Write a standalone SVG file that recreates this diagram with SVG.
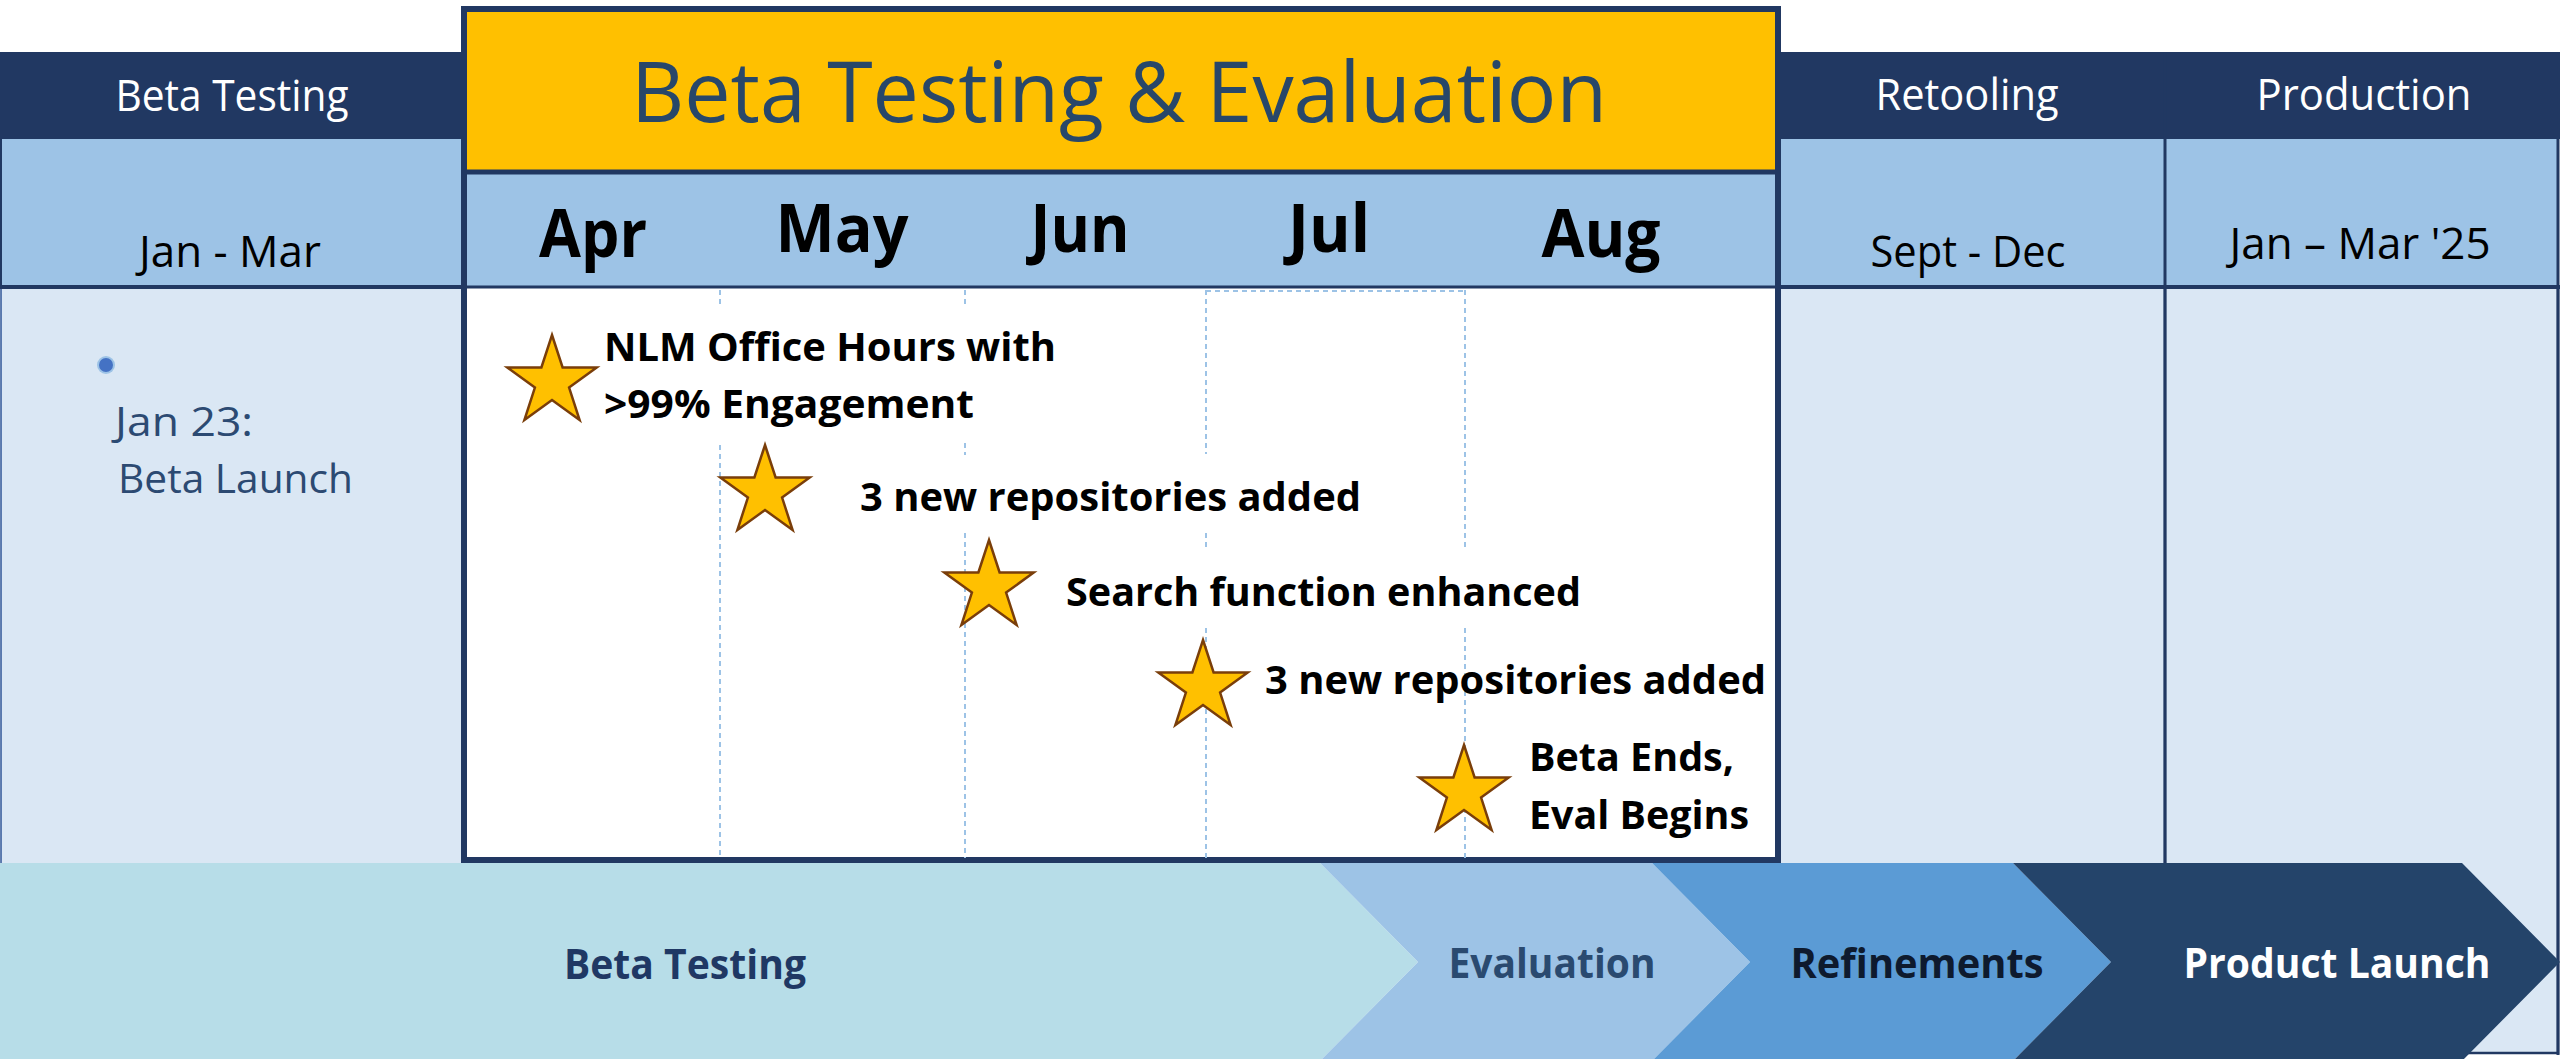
<svg xmlns="http://www.w3.org/2000/svg" width="2560" height="1059" viewBox="0 0 2560 1059">
<style>
text{font-family:"Open Sans","Liberation Sans",sans-serif}
.hdr{fill:#FFFFFF;font-size:43px}
.sub{fill:#000000;font-size:43px}
.mon{fill:#000000;font-size:66px;font-weight:bold}
.lbl{fill:#000000;font-size:39px;font-weight:bold}
.chv{font-size:42px;font-weight:bold}
.navytxt{fill:#2C4A72;font-size:41px}
.grid{stroke:#9DC3E6;stroke-width:2;stroke-dasharray:5 4;fill:none}
.star{fill:#FFC000;stroke:#7A3E0A;stroke-width:2.5;stroke-linejoin:miter}
</style>
<defs>
<polygon id="star" points="0,-47 10.6,-14.6 44.7,-14.5 17.1,5.6 27.6,38 0,18 -27.6,38 -17.1,5.6 -44.7,-14.5 -10.6,-14.6"/>
</defs>
<rect x="0" y="0" width="2560" height="1059" fill="#FFFFFF"/>

<g id="col-beta">
<rect x="0" y="52" width="466" height="85" fill="#213862"/>
<rect x="1" y="137" width="465" height="150" fill="#9DC3E6" stroke="#213862" stroke-width="2"/>
<rect x="1" y="287" width="465" height="580" fill="#DAE7F4" stroke="#2F5597" stroke-width="1.5"/>
<line x1="0" y1="137" x2="466" y2="137" stroke="#213862" stroke-width="4"/>
<line x1="0" y1="287" x2="466" y2="287" stroke="#213862" stroke-width="4"/>
<text class="hdr" x="232" y="111" text-anchor="middle" textLength="233" lengthAdjust="spacingAndGlyphs">Beta Testing</text>
<text class="sub" x="230" y="267" text-anchor="middle" textLength="182" lengthAdjust="spacingAndGlyphs">Jan - Mar</text>
<circle cx="106" cy="365" r="9" fill="#9DC3E6"/>
<circle cx="106" cy="365" r="7" fill="#4472C4"/>
<text class="navytxt" x="115" y="436" textLength="138" lengthAdjust="spacingAndGlyphs">Jan 23:</text>
<text class="navytxt" x="118" y="493" textLength="235" lengthAdjust="spacingAndGlyphs">Beta Launch</text>
</g>

<g id="col-retooling">
<rect x="1778" y="52" width="387" height="85" fill="#213862"/>
<rect x="1779" y="137" width="386" height="150" fill="#9DC3E6"/>
<rect x="1779" y="287" width="386" height="768" fill="#DAE7F4"/>
<line x1="1778" y1="137" x2="2165" y2="137" stroke="#213862" stroke-width="4"/>
<line x1="1778" y1="287" x2="2165" y2="287" stroke="#213862" stroke-width="4"/>
<text class="hdr" x="1967" y="110" text-anchor="middle" textLength="183" lengthAdjust="spacingAndGlyphs">Retooling</text>
<text class="sub" x="1968" y="267" text-anchor="middle" textLength="195" lengthAdjust="spacingAndGlyphs">Sept - Dec</text>
</g>

<g id="col-production">
<rect x="2165" y="52" width="395" height="85" fill="#213862"/>
<rect x="2165" y="137" width="393" height="150" fill="#9DC3E6"/>
<rect x="2165" y="287" width="393" height="766" fill="#DAE7F4" stroke="#213862" stroke-width="2.5"/>
<line x1="2165" y1="52" x2="2165" y2="1055" stroke="#213862" stroke-width="3"/>
<line x1="2165" y1="137" x2="2560" y2="137" stroke="#213862" stroke-width="4"/>
<line x1="2165" y1="287" x2="2560" y2="287" stroke="#213862" stroke-width="4"/>
<line x1="2558" y1="137" x2="2558" y2="1055" stroke="#213862" stroke-width="3"/>
<text class="hdr" x="2364" y="110" text-anchor="middle" textLength="215" lengthAdjust="spacingAndGlyphs">Production</text>
<text class="sub" x="2360" y="259" text-anchor="middle" textLength="261" lengthAdjust="spacingAndGlyphs">Jan – Mar '25</text>
</g>

<g id="main-box">
<rect x="464" y="9" width="1314" height="163" fill="#FFC000"/>
<rect x="464" y="172" width="1314" height="115" fill="#9DC3E6"/>
<rect x="464" y="287" width="1314" height="573" fill="#FFFFFF"/>
<line x1="464" y1="172" x2="1778" y2="172" stroke="#213862" stroke-width="5"/>
<line x1="464" y1="287" x2="1778" y2="287" stroke="#213862" stroke-width="3"/>
<rect x="464" y="9" width="1314" height="851" fill="none" stroke="#213862" stroke-width="6"/>
<text x="1119" y="122" text-anchor="middle" font-size="84" fill="#284769" textLength="976" lengthAdjust="spacingAndGlyphs">Beta Testing &amp; Evaluation</text>
<text class="mon" x="593" y="257" text-anchor="middle" textLength="108" lengthAdjust="spacingAndGlyphs">Apr</text>
<text class="mon" x="842" y="252" text-anchor="middle" textLength="133" lengthAdjust="spacingAndGlyphs">May</text>
<text class="mon" x="1080" y="252" text-anchor="middle" textLength="99" lengthAdjust="spacingAndGlyphs">Jun</text>
<text class="mon" x="1329" y="252" text-anchor="middle" textLength="82" lengthAdjust="spacingAndGlyphs">Jul</text>
<text class="mon" x="1601" y="257" text-anchor="middle" textLength="119" lengthAdjust="spacingAndGlyphs">Aug</text>
</g>

<g id="connectors">
<line class="grid" x1="1206" y1="291" x2="1465" y2="291" stroke-dasharray="2 2"/>
<path class="grid" d="M720,290V307 M720,445V858"/>
<path class="grid" d="M965,290V307 M965,443V455 M965,533V858"/>
<path class="grid" d="M1206,290V454 M1206,533V550 M1206,628V858"/>
<path class="grid" d="M1465,290V550 M1465,628V858"/>
</g>

<g id="milestone-1">
<use href="#star" class="star" x="552" y="382"/>
<text class="lbl" x="604" y="361" textLength="452" lengthAdjust="spacingAndGlyphs">NLM Office Hours with</text>
<text class="lbl" x="604" y="418" textLength="370" lengthAdjust="spacingAndGlyphs">&gt;99% Engagement</text>
</g>
<g id="milestone-2">
<use href="#star" class="star" x="765" y="492"/>
<text class="lbl" x="860" y="511" textLength="501" lengthAdjust="spacingAndGlyphs">3 new repositories added</text>
</g>
<g id="milestone-3">
<use href="#star" class="star" x="989" y="587"/>
<text class="lbl" x="1066" y="606" textLength="515" lengthAdjust="spacingAndGlyphs">Search function enhanced</text>
</g>
<g id="milestone-4">
<use href="#star" class="star" x="1203" y="687"/>
<text class="lbl" x="1265" y="694" textLength="501" lengthAdjust="spacingAndGlyphs">3 new repositories added</text>
</g>
<g id="milestone-5">
<use href="#star" class="star" x="1464" y="792"/>
<text class="lbl" x="1529" y="771" textLength="205" lengthAdjust="spacingAndGlyphs">Beta Ends,</text>
<text class="lbl" x="1529" y="829" textLength="220" lengthAdjust="spacingAndGlyphs">Eval Begins</text>
</g>

<g id="phase-beta">
<polygon points="0,863 1320,863 1418,962 1320,1061 0,1061" fill="#B7DDE8"/>
<text class="chv" x="685" y="979" text-anchor="middle" fill="#1F3864" textLength="242" lengthAdjust="spacingAndGlyphs">Beta Testing</text>
</g>
<g id="phase-evaluation">
<polygon points="1320,863 1652,863 1750,962 1652,1061 1320,1061 1418,962" fill="#9DC3E6"/>
<text class="chv" x="1552" y="978" text-anchor="middle" fill="#2A4A70" textLength="207" lengthAdjust="spacingAndGlyphs">Evaluation</text>
</g>
<g id="phase-refinements">
<polygon points="1652,863 2013,863 2111,962 2013,1061 1652,1061 1750,962" fill="#5B9BD5"/>
<text class="chv" x="1917" y="978" text-anchor="middle" fill="#0E1A2E" textLength="253" lengthAdjust="spacingAndGlyphs">Refinements</text>
</g>
<g id="phase-launch">
<polygon points="2013,863 2462,863 2560,962 2462,1061 2013,1061 2111,962" fill="#24446A"/>
<text class="chv" x="2337" y="978" text-anchor="middle" fill="#FFFFFF" textLength="307" lengthAdjust="spacingAndGlyphs">Product Launch</text>
</g>
</svg>
